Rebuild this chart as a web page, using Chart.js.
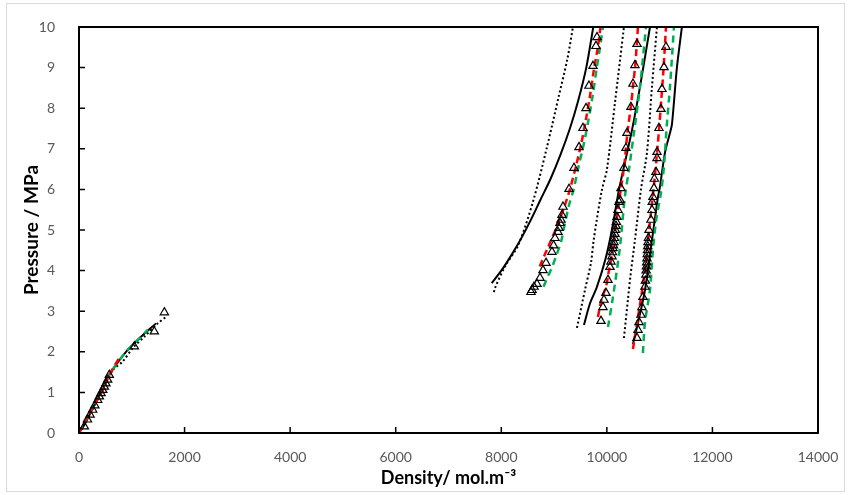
<!DOCTYPE html>
<html>
<head>
<meta charset="utf-8">
<script src="https://cdn.jsdelivr.net/npm/chart.js@4.4.0/dist/chart.umd.min.js"></script>
<style>
    body { margin: 0; background: #fff; }
    #wrap { position: relative; width: 849px; height: 495px; }
    #frame { position: absolute; left: 6px; top: 3px; width: 839px; height: 489px; border: 1px solid #d9d9d9; box-sizing: border-box; }
    #chart { position: absolute; left: 0; top: 0; }
</style>
</head>
<body>
<div id="wrap">
    <div id="frame"></div>
    <canvas id="chart" width="849" height="495"></canvas>
</div>
<script>
// axis ticks
var xTicks = [0, 2000, 4000, 6000, 8000, 10000, 12000, 14000];
var yTicks = [0, 1, 2, 3, 4, 5, 6, 7, 8, 9, 10];

// experimental points [density, pressure]
var expPoints = [
    [101, 0.16], [160, 0.33], [210, 0.45], [259, 0.57], [300, 0.68], [354, 0.81], [385, 0.9], [417, 0.98],
    [450, 1.06], [480, 1.14], [510, 1.22], [543, 1.31], [574, 1.43], [1048, 2.13], [1427, 2.50], [1617, 2.97],
    // isotherm A
    [8563, 3.47], [8582, 3.52], [8620, 3.6], [8676, 3.67], [8733, 3.82], [8790, 4.01], [8847, 4.19], [8960, 4.46],
    [8990, 4.62], [9017, 4.80], [9074, 4.95], [9093, 5.05], [9112, 5.17], [9131, 5.25], [9150, 5.37], [9169, 5.57],
    [9283, 6.01], [9377, 6.53], [9472, 7.04], [9548, 7.51], [9605, 8.0], [9661, 8.55], [9737, 9.04], [9794, 9.53], [9813, 9.75],
    // isotherm B
    [9889, 2.76], [9926, 3.10], [9945, 3.28], [9983, 3.45], [10021, 3.77], [10059, 4.09], [10078, 4.22], [10097, 4.35],
    [10106, 4.45], [10116, 4.55], [10125, 4.62], [10135, 4.7], [10144, 4.8], [10154, 4.9], [10163, 5.0], [10173, 5.1],
    [10180, 5.2], [10192, 5.32], [10210, 5.49], [10230, 5.69], [10248, 5.74], [10267, 6.03], [10324, 6.53], [10362, 7.02],
    [10381, 7.39], [10457, 8.03], [10495, 8.60], [10532, 9.06], [10571, 9.58],
    // isotherm C
    [10571, 2.34], [10590, 2.54], [10609, 2.73], [10646, 2.91], [10665, 3.10], [10684, 3.35], [10722, 3.60], [10730, 3.75],
    [10740, 3.9], [10745, 4.0], [10750, 4.1], [10755, 4.2], [10760, 4.3], [10765, 4.4], [10770, 4.5], [10775, 4.6],
    [10780, 4.7], [10788, 4.8], [10798, 5.0], [10836, 5.25], [10855, 5.49], [10860, 5.69], [10874, 5.81], [10893, 6.03],
    [10900, 6.26], [10931, 6.43], [10950, 6.77], [10950, 6.92], [10987, 7.51], [11025, 7.98], [11044, 8.47], [11082, 9.01], [11120, 9.51]
];

// model 1 (solid black)
var solidGas = [[0, 0], [101, 0.2], [322, 0.77], [574, 1.43], [890, 2.0], [1143, 2.33], [1459, 2.70]];
var solidA = [[7818, 3.69], [8007, 4.01], [8200, 4.4], [8380, 4.8], [8560, 5.25], [8740, 5.74], [8930, 6.25], [9120, 6.85], [9300, 7.5], [9450, 8.15], [9610, 9.0], [9743, 10]];
var solidB = [[9566, 2.66], [9680, 3.19], [9812, 3.6], [9983, 4.33], [10110, 5.1], [10230, 5.99], [10476, 7.46], [10627, 8.52], [10817, 10]];
var solidC = [[10494, 2.19], [10589, 2.71], [10722, 3.52], [10855, 4.75], [10968, 5.81], [11006, 6.06], [11100, 6.9], [11195, 7.39], [11233, 7.6], [11328, 9.01], [11422, 10]];

// model 2 (dotted black)
var dottedGas = [[0, 0], [120, 0.25], [322, 0.75], [574, 1.4], [669, 1.59], [827, 1.76], [1016, 2.09], [1237, 2.37], [1490, 2.70], [1648, 2.86]];
var dottedA = [[7861, 3.47], [7880, 3.57], [8070, 4.1], [8322, 4.63], [8601, 5.7], [8865, 7.04], [9090, 8.3], [9250, 9.2], [9358, 10]];
var dottedB = [[9433, 2.59], [9585, 3.52], [9700, 4.2], [9750, 4.75], [9900, 5.95], [10002, 6.5], [10153, 8.13], [10324, 10]];
var dottedC = [[10324, 2.34], [10400, 3.3], [10450, 3.9], [10532, 4.75], [10645, 5.99], [10759, 6.9], [10854, 8.52], [10949, 10]];

// model 3 (red dashed)
var redGas = [[0, 0], [120, 0.3], [265, 0.64], [430, 1.0], [574, 1.43], [764, 1.85]];
var redA = [[8730, 4.1], [8765, 4.22], [8860, 4.5], [8960, 4.8], [9060, 5.1], [9207, 5.62], [9300, 6.0], [9420, 6.6], [9510, 7.1], [9600, 7.7], [9680, 8.3], [9760, 9.0], [9830, 9.5], [9880, 10]];
var redB = [[9831, 2.86], [9900, 3.3], [9983, 3.6], [10040, 4.0], [10100, 4.4], [10160, 5.0], [10210, 5.5], [10267, 6.03], [10330, 6.6], [10390, 7.4], [10460, 8.1], [10500, 8.6], [10540, 9.1], [10589, 10]];
var redC = [[10494, 2.07], [10560, 2.6], [10620, 3.1], [10690, 3.7], [10750, 4.33], [10800, 5.0], [10850, 5.6], [10900, 6.2], [10950, 6.9], [10990, 7.5], [11030, 8.2], [11070, 8.9], [11120, 10]];

// model 4 (green dashed)
var greenGas = [[0, 0], [265, 0.64], [574, 1.43], [890, 2.0], [1143, 2.33], [1301, 2.54]];
var greenA = [[8800, 3.6], [8880, 3.85], [8955, 4.06], [9050, 4.4], [9130, 4.7], [9207, 5.17], [9280, 5.6], [9370, 6.0], [9470, 6.6], [9560, 7.1], [9650, 7.7], [9730, 8.3], [9810, 9.0], [9870, 9.5], [9926, 10]];
var greenB = [[10021, 2.61], [10116, 3.35], [10248, 4.58], [10340, 5.8], [10420, 6.5], [10520, 7.46], [10627, 8.52], [10741, 10]];
var greenC = [[10683, 1.97], [10721, 2.71], [10816, 3.52], [10873, 4.51], [10940, 5.3], [11030, 5.95], [11090, 6.7], [11133, 7.54], [11196, 8.53], [11271, 10]];

var xTitle = 'Density/ mol.m\u207B\u00B3';
var yTitle = 'Pressure / MPa';

function toXY(arr) {
    return arr.map(function (p) { return {x: p[0], y: p[1]}; });
}

function lineSet(arr, color, width, dash) {
    return {
        data: toXY(arr),
        showLine: true,
        borderColor: color,
        borderWidth: width,
        borderDash: dash,
        pointRadius: 0,
        fill: false,
        tension: 0.3
    };
}

var datasets = [];
datasets.push({
    data: toXY(expPoints),
    showLine: false,
    pointStyle: 'triangle',
    pointRadius: 4.8,
    pointBorderWidth: 1.2,
    pointBorderColor: '#000',
    pointBackgroundColor: 'rgba(0,0,0,0)'
});
[redGas, redA, redB, redC].forEach(function (s) { datasets.push(lineSet(s, '#FF0000', 2.5, [7, 4])); });
[greenGas, greenA, greenB, greenC].forEach(function (s) { datasets.push(lineSet(s, '#00B050', 2.5, [7, 5])); });
[solidGas, solidA, solidB, solidC].forEach(function (s) { datasets.push(lineSet(s, '#000', 2, [])); });
[dottedGas, dottedA, dottedB, dottedC].forEach(function (s) { datasets.push(lineSet(s, '#000', 2, [2, 2.5])); });

// frame, inward tick marks and x tick labels
var framePlugin = {
    id: 'frame',
    afterDatasetsDraw: function (chart) {
        var ctx = chart.ctx, a = chart.chartArea;
        var xs = chart.scales.x, ys = chart.scales.y;
        ctx.save();
        ctx.strokeStyle = '#000';
        ctx.lineWidth = 1.5;
        ctx.beginPath();
        xTicks.forEach(function (v) {
            var px = xs.getPixelForValue(v);
            ctx.moveTo(px, a.bottom);
            ctx.lineTo(px, a.bottom - 6);
        });
        yTicks.forEach(function (v) {
            var py = ys.getPixelForValue(v);
            ctx.moveTo(a.left, py);
            ctx.lineTo(a.left + 6, py);
        });
        ctx.stroke();
        ctx.lineWidth = 2;
        ctx.strokeRect(a.left, a.top, a.right - a.left, a.bottom - a.top);

        // x labels drawn here so their height stays fixed
        ctx.fillStyle = '#595959';
        ctx.font = '14px Lato, "Open Sans", sans-serif';
        ctx.textAlign = 'center';
        ctx.textBaseline = 'middle';
        xTicks.forEach(function (v) {
            ctx.fillText(String(v), xs.getPixelForValue(v), a.bottom + 24);
        });
        ctx.restore();
    }
};

Chart.defaults.font.family = 'Lato, "Open Sans", sans-serif';

var ctx = document.getElementById('chart');
var chart = new Chart(ctx, {
    type: 'scatter',
    data: {datasets: datasets},
    options: {
        responsive: false,
        animation: false,
        layout: {padding: {left: 0, top: 27, right: 31, bottom: 6}},
        plugins: {legend: {display: false}, tooltip: {enabled: false}},
        scales: {
            x: {
                type: 'linear',
                min: 0,
                max: 14000,
                afterBuildTicks: function (scale) {
                    scale.ticks = xTicks.map(function (v) { return {value: v}; });
                },
                afterFit: function (scale) {
                    scale.height = 56;
                    scale.paddingLeft = 0;
                    scale.paddingRight = 0;
                },
                grid: {display: false},
                border: {display: false},
                ticks: {display: false},
                title: {display: true, text: xTitle, color: '#000', font: {size: 18, weight: 'bold'}, padding: {top: 0, bottom: 0}}
            },
            y: {
                type: 'linear',
                min: 0,
                max: 10,
                afterBuildTicks: function (scale) {
                    scale.ticks = yTicks.map(function (v) { return {value: v}; });
                },
                afterFit: function (scale) {
                    scale.width = 79;
                    scale.paddingTop = 0;
                    scale.paddingBottom = 0;
                },
                grid: {display: false},
                border: {display: false},
                ticks: {color: '#595959', font: {size: 14}, padding: 16},
                title: {display: true, text: yTitle, color: '#000', font: {size: 19, weight: 'bold'}, padding: {top: 20, bottom: 0}}
            }
        }
    },
    plugins: [framePlugin]
});
</script>
</body>
</html>
